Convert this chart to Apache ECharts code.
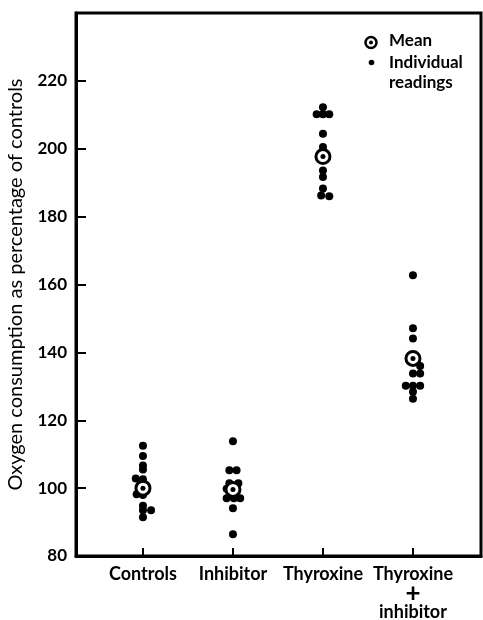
<!DOCTYPE html>
<html>
<head>
<meta charset="utf-8">
<script src="https://cdn.jsdelivr.net/npm/echarts@6/dist/echarts.min.js"></script>
<style>html,body{margin:0;padding:0;background:#fff}#c{width:483px;height:620px}</style>
</head>
<body>
<div id="c"></div>
<script>
var categories = ['Controls', 'Inhibitor', 'Thyroxine', 'Thyroxine\n+\ninhibitor'];
var yTicks = [80, 100, 120, 140, 160, 180, 200, 220];

// individual readings (values) and their small sideways offsets (category units)
var controlsReadings = [112.5, 109.5, 106.7, 105.5, 102.8, 102.6, 98.2, 98.0, 94.8, 93.5, 93.5, 91.4];
var controlsOffsets  = [0, 0, 0, 0, -0.08, 0, -0.07, 0, 0, 0, 0.09, 0];
var inhibitorReadings = [113.8, 105.3, 105.3, 101.4, 101.4, 99.8, 97.0, 97.0, 97.0, 94.1, 86.4];
var inhibitorOffsets  = [0, -0.04, 0.04, -0.04, 0.06, -0.07, -0.07, 0.01, 0.08, 0, 0];
var thyroxineReadings = [212.2, 210.2, 210.2, 210.2, 204.4, 200.5, 193.6, 191.7, 188.3, 186.2, 186.0];
var thyroxineOffsets  = [0, -0.07, 0, 0.07, 0, 0, 0, 0, 0, -0.02, 0.07];
var thyInhReadings = [162.7, 147.1, 144.1, 136.0, 133.8, 133.8, 130.2, 130.2, 130.2, 128.4, 126.3];
var thyInhOffsets  = [0, 0, 0, 0.08, 0, 0.08, -0.08, 0, 0.08, 0, 0];
var means = [100.0, 99.6, 197.7, 138.2];

var groups = [
  [controlsReadings, controlsOffsets],
  [inhibitorReadings, inhibitorOffsets],
  [thyroxineReadings, thyroxineOffsets],
  [thyInhReadings, thyInhOffsets]
];
var readingPts = [];
groups.forEach(function (g, i) {
  g[0].forEach(function (v, j) { readingPts.push([i + 1 + g[1][j], v]); });
});
var meanPts = means.map(function (v, i) { return [i + 1, v]; });
var catPos = categories.map(function (c, i) { return i + 1; });

var font = 'Lato';
var chart = echarts.init(document.getElementById('c'));
chart.setOption({
  backgroundColor: '#fff',
  animation: false,
  grid: { left: 76, right: 2, top: 13, bottom: 64, show: true, borderColor: '#000', borderWidth: 3, containLabel: false, outerBoundsMode: 'none' },
  xAxis: {
    type: 'value', min: 0.256, max: 4.756,
    splitLine: { show: false },
    axisLine: { lineStyle: { color: '#000', width: 3 } },
    axisTick: { customValues: catPos, inside: true, length: 8, lineStyle: { color: '#000', width: 2 } },
    axisLabel: {
      customValues: catPos, margin: 9, color: '#000', fontFamily: font, fontWeight: 'bold', fontSize: 18, lineHeight: 19,
      formatter: function (v) {
        var s = categories[Math.round(v) - 1] || '';
        if (s.indexOf('\n') >= 0) {
          var p = s.split('\n');
          return p[0] + '\n{plus|' + p[1] + '}\n' + p[2];
        }
        return s;
      },
      rich: { plus: { fontSize: 26, fontWeight: 'bold', color: '#000', fontFamily: font, lineHeight: 19 } }
    }
  },
  yAxis: {
    type: 'value', min: 80, max: 240, interval: 20,
    name: 'Oxygen consumption as percentage of controls',
    nameLocation: 'middle', nameGap: 50,
    nameTextStyle: { color: '#000', fontFamily: font, fontSize: 20 },
    splitLine: { show: false },
    axisLine: { lineStyle: { color: '#000', width: 3 } },
    axisTick: { inside: true, length: 10, lineStyle: { color: '#000', width: 2 } },
    axisLabel: {
      color: '#000', fontFamily: font, fontWeight: 'bold', fontSize: 17, margin: 9,
      formatter: function (v) { return yTicks.indexOf(v) >= 0 ? String(v) : ''; }
    }
  },
  series: [
    { type: 'scatter', data: readingPts, symbol: 'circle', symbolSize: 8, itemStyle: { color: '#000', opacity: 1 }, z: 2 },
    { type: 'scatter', data: meanPts, symbol: 'circle', symbolSize: 14, itemStyle: { color: '#fff', borderColor: '#000', borderWidth: 3, opacity: 1 }, z: 3 },
    { type: 'scatter', data: meanPts, symbol: 'circle', symbolSize: 5, itemStyle: { color: '#000', opacity: 1 }, z: 4 }
  ],
  graphic: [
    { type: 'circle', shape: { cx: 371, cy: 42.5, r: 5.5 }, style: { fill: '#fff', stroke: '#000', lineWidth: 2.5 }, z: 10 },
    { type: 'circle', shape: { cx: 371, cy: 42.5, r: 2 }, style: { fill: '#000' }, z: 11 },
    { type: 'circle', shape: { cx: 371.5, cy: 62.5, r: 2.8 }, style: { fill: '#000' }, z: 10 },
    { type: 'text', left: 389, top: 32, style: { text: 'Mean', font: 'bold 17px Lato', fill: '#000' }, z: 10 },
    { type: 'text', left: 389, top: 53, style: { text: 'Individual\nreadings', font: 'bold 17px Lato', fill: '#000', lineHeight: 20 }, z: 10 }
  ]
});
</script>
</body>
</html>
